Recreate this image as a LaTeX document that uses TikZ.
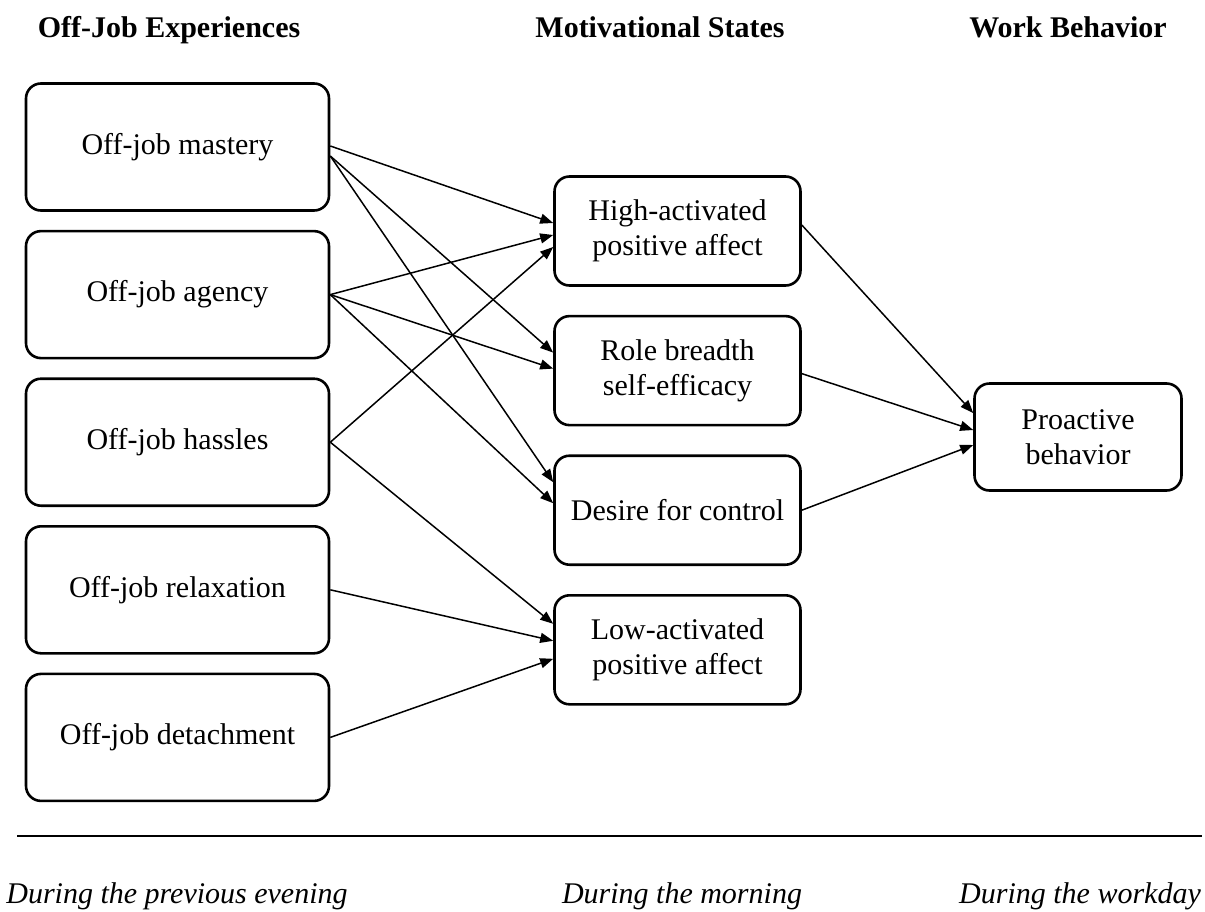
\documentclass[tikz,border=0pt]{standalone}
\usepackage{fontspec}
\setmainfont{Liberation Serif}
\usetikzlibrary{positioning,arrows.meta}

\tikzset{
  box/.style={draw, line width=2.6pt, rounded corners=15pt, align=center,
    font=\fontsize{30}{35}\selectfont, inner sep=0pt},
  expbox/.style={box, minimum width=303pt, minimum height=127pt},
  statebox/.style={box, minimum width=246pt, minimum height=109pt},
  behbox/.style={box, minimum width=207pt, minimum height=107pt},
  link/.style={line width=1.5pt, -{Triangle[length=13pt,width=10pt]}},
  head/.style={font=\fontsize{30}{35}\selectfont\bfseries, anchor=base},
  period/.style={font=\fontsize{30}{35}\selectfont\itshape, anchor=base}
}

\begin{document}
\begin{tikzpicture}[x=1pt,y=-1pt]
	\useasboundingbox (0,0) rectangle (1205,911);

	% column heads
	\node[head] (hexp) at (169,37) {Off-Job Experiences};
	\node[head] (hmot) at (660,37) {Motivational States};
	\node[head] (hwork) at (1068,37) {Work Behavior};

	% off-job experiences
	\node[expbox] (mastery) at (177.5,147) {Off-job mastery};
	\node[expbox] (agency) [below=18pt of mastery] {Off-job agency};
	\node[expbox] (hassles) [below=18pt of agency] {Off-job hassles};
	\node[expbox] (relax) [below=18pt of hassles] {Off-job relaxation};
	\node[expbox] (detach) [below=18pt of relax] {Off-job detachment};

	% motivational states
	\node[statebox] (HA) at (677.5,231) {High-activated\\positive affect};
	\node[statebox] (RB) [below=28pt of HA] {Role breadth\\self-efficacy};
	\node[statebox] (DC) [below=28pt of RB] {Desire for control};
	\node[statebox] (LA) [below=28pt of DC] {Low-activated\\positive affect};

	% work behavior
	\node[behbox] (PB) at (1078,437) {Proactive\\behavior};

	\draw[link] ([yshift=1pt]mastery.east) -- ([yshift=8pt]HA.west);
	\draw[link] ([yshift=-9pt]mastery.east) -- ([yshift=18pt]RB.west);
	\draw[link] ([yshift=-9pt]mastery.east) -- ([yshift=28pt]DC.west);
	\draw[link] (agency.east) -- ([yshift=-4pt]HA.west);
	\draw[link] (agency.east) -- ([yshift=2pt]RB.west);
	\draw[link] (agency.east) -- ([yshift=7pt]DC.west);
	\draw[link] (hassles.east) -- ([yshift=-16pt]HA.west);
	\draw[link] (hassles.east) -- ([yshift=26pt]LA.west);
	\draw[link] (relax.east) -- ([yshift=9pt]LA.west);
	\draw[link] (detach.east) -- ([yshift=-9pt]LA.west);
	\draw[link] ([yshift=6pt]HA.east) -- ([yshift=24pt]PB.west);
	\draw[link] ([yshift=-3pt]RB.east) -- ([yshift=7pt]PB.west);
	\draw[link] (DC.east) -- ([yshift=-8pt]PB.west);

	% time line
	\draw[line width=1.5pt] (17,836) -- (1202,836);
	\node[period] (fevening) at (177,903) {During the previous evening};
	\node[period] (fmorning) at (682,903) {During the morning};
	\node[period] (fworkday) at (1080,903) {During the workday};

\end{tikzpicture}
\end{document}
